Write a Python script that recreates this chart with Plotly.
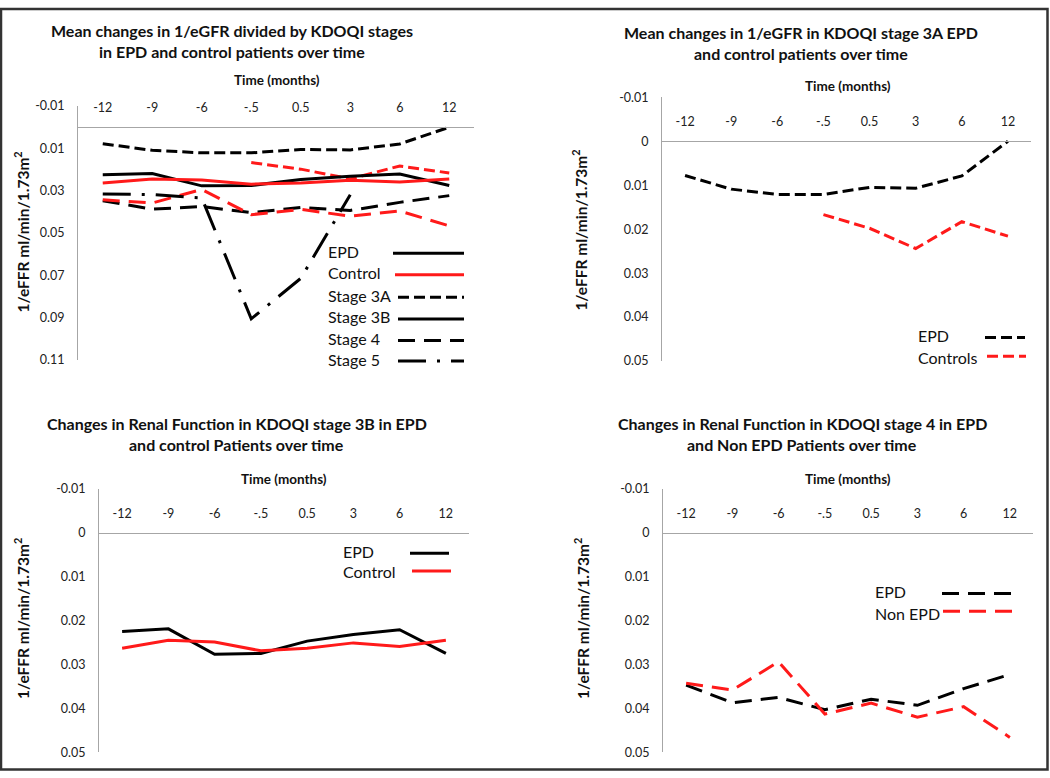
# -*- coding: utf-8 -*-
# four panels: 1/eGFR changes by KDOQI stage, EPD vs control

import plotly.graph_objects as go

W, H = 1050, 778

months = ["-12", "-9", "-6", "-.5", "0.5", "3", "6", "12"]

stage3a_epd = [0.0078, 0.0109, 0.0121, 0.0121, 0.0105, 0.0107, 0.0079, 0.0]
stage3a_ctrl = [None, None, None, 0.0167, 0.0198, 0.0244, 0.0183, 0.0216]
stage3b_epd = [0.0225, 0.0219, 0.0277, 0.0275, 0.0247, 0.0232, 0.0221, 0.0275]
stage3b_ctrl = [0.0263, 0.0245, 0.0249, 0.0269, 0.0263, 0.0251, 0.0259, 0.0245]
stage4_epd = [0.0347, 0.0387, 0.0375, 0.0403, 0.0379, 0.0393, 0.0355, 0.0323]
stage4_ctrl = [0.0343, 0.0358, 0.0294, 0.0413, 0.0388, 0.0420, 0.0396, 0.0466]
stage5_epd = [0.0315, 0.0318, 0.0334, 0.0905, 0.0714, 0.0319, None, None]

ticks_big = [-0.01, 0.01, 0.03, 0.05, 0.07, 0.09, 0.11]
ticks_small = [-0.01, 0, 0.01, 0.02, 0.03, 0.04, 0.05]

FONT = "Lato"
BLACK = "#000000"
RED = "#ff1a1a"
AXIS = "#a6a6a6"
SHORT = "11px,5px"
LONG = "17px,9px"
DASHDOT = "28px,11px,3px,11px"


def fx(p):
    return p / W


def fy(p):
    return 1 - p / H


def tick_text(v):
    if v == 0:
        return "0"
    return ("%.2f" % v)


# panels: pixel box of the plot area (left, right, top of -0.01, bottom)
panels = [
    dict(box=(78, 474, 100, 359), yr=(0.11, -0.01), ticks=ticks_big),
    dict(box=(662, 1031, 91, 360), yr=(0.05, -0.01), ticks=ticks_small),
    dict(box=(99, 469, 490, 759), yr=(0.05, -0.01), ticks=ticks_small),
    dict(box=(663, 1033, 490, 759), yr=(0.05, -0.01), ticks=ticks_small),
]

fig = go.Figure()


def add_line(i, y, color, dash):
    sfx = "" if i == 0 else str(i + 1)
    fig.add_trace(go.Scatter(x=months, y=y, mode="lines", xaxis="x" + sfx, yaxis="y" + sfx,
                             line=dict(color=color, width=3, dash=dash),
                             connectgaps=False, showlegend=False, hoverinfo="skip"))


# panel 1: all stages
add_line(0, stage3a_epd, BLACK, SHORT)
add_line(0, stage3a_ctrl, RED, SHORT)
add_line(0, stage3b_epd, BLACK, "solid")
add_line(0, stage3b_ctrl, RED, "solid")
add_line(0, stage4_epd, BLACK, LONG)
add_line(0, stage4_ctrl, RED, LONG)
add_line(0, stage5_epd, BLACK, DASHDOT)
# panel 2: stage 3A
add_line(1, stage3a_epd, BLACK, SHORT)
add_line(1, stage3a_ctrl, RED, SHORT)
# panel 3: stage 3B
add_line(2, stage3b_epd, BLACK, "solid")
add_line(2, stage3b_ctrl, RED, "solid")
# panel 4: stage 4
add_line(3, stage4_epd, BLACK, LONG)
add_line(3, stage4_ctrl, RED, LONG)

layout = dict(width=W, height=H, margin=dict(l=0, r=0, t=0, b=0),
              paper_bgcolor="white", plot_bgcolor="white", showlegend=False,
              font=dict(family=FONT, color="#222222"))

for i, p in enumerate(panels):
    sfx = "" if i == 0 else str(i + 1)
    l, r, t, b = p["box"]
    ydom = [fy(b), fy(t)]
    ybot, ytop = p["yr"]
    pos = ydom[0] + (ydom[1] - ydom[0]) * (ybot - 0) / (ybot - ytop)
    layout["xaxis" + sfx] = dict(domain=[fx(l), fx(r)], anchor="free", position=pos, side="top",
                                 type="category", range=[-0.5, 7.5], showline=True, linecolor=AXIS,
                                 linewidth=1, showgrid=False, zeroline=False, ticks="outside",
                                 ticklen=10, tickcolor="rgba(0,0,0,0)",
                                 tickfont=dict(size=12.5, color="#222222"), fixedrange=True)
    layout["yaxis" + sfx] = dict(domain=ydom, anchor="x" + sfx, range=[ybot, ytop],
                                 showline=True, linecolor=AXIS, linewidth=1, showgrid=False,
                                 zeroline=False, tickvals=p["ticks"],
                                 ticktext=[tick_text(v) for v in p["ticks"]],
                                 ticks="outside", ticklen=10, tickcolor="rgba(0,0,0,0)",
                                 tickfont=dict(size=12.5, color="#222222"), fixedrange=True)

fig.update_layout(**layout)

ann = []
shapes = []


def text(x, y, s, size=14, bold=False, angle=0, xanchor="center"):
    if bold:
        s = "<b>" + s + "</b>"
    ann.append(dict(x=fx(x), y=fy(y), xref="paper", yref="paper", text=s, showarrow=False,
                    xanchor=xanchor, yanchor="middle", textangle=angle,
                    font=dict(family=FONT, size=size, color="#111111")))


def sample(x0, x1, y, color, dash):
    shapes.append(dict(type="line", xref="paper", yref="paper", x0=fx(x0), x1=fx(x1),
                       y0=fy(y), y1=fy(y), line=dict(color=color, width=3, dash=dash)))


ytitle = "1/eFFR ml/min/1.73m<sup>2</sup>"
TS = 16

# panel 1
text(232, 23, "Mean changes in 1/eGFR divided by KDOQI stages", TS, True)
text(232, 44, "in EPD and control patients over time", TS, True)
text(277, 73, "Time (months)", 13.5, True)
text(22, 229, ytitle, 15.5, True, -90)
leg1 = [("EPD", 248, BLACK, "solid", 393), ("Control", 270, RED, "solid", 395),
        ("Stage 3A", 293, BLACK, SHORT, 398), ("Stage 3B", 315, BLACK, "solid", 398),
        ("Stage 4", 337, BLACK, LONG, 398), ("Stage 5", 358, BLACK, DASHDOT, 398)]
for name, yy, c, d, x0 in leg1:
    text(326, yy, name, 16, xanchor="left")
    sample(x0, 464, yy + 2, c, d)

# panel 2
text(801, 25, "Mean changes in 1/eGFR in KDOQI stage 3A EPD", TS, True)
text(801, 46, "and control patients over time", TS, True)
text(848, 80, "Time (months)", 13.5, True)
text(580, 227, ytitle, 15.5, True, -90)
text(916, 334, "EPD", 16, xanchor="left")
sample(985, 1025, 336, BLACK, SHORT)
text(916, 356, "Controls", 16, xanchor="left")
sample(987, 1026, 355, RED, SHORT)

# panel 3
text(237, 424, "Changes in Renal Function in KDOQI stage 3B in EPD", TS, True)
text(237, 445, "and control Patients over time", TS, True)
text(284, 480, "Time (months)", 13.5, True)
text(22, 623, ytitle, 15.5, True, -90)
text(341, 554, "EPD", 16, xanchor="left")
sample(410, 449, 556, BLACK, "solid")
text(341, 575, "Control", 16, xanchor="left")
sample(412, 451, 574, RED, "solid")

# panel 4
text(802, 424, "Changes in Renal Function in KDOQI stage 4 in EPD", TS, True)
text(802, 445, "and Non EPD Patients over time", TS, True)
text(848, 480, "Time (months)", 13.5, True)
text(582, 623, ytitle, 15.5, True, -90)
text(873, 595, "EPD", 16, xanchor="left")
sample(942, 1012, 597, BLACK, LONG)
text(873, 617, "Non EPD", 16, xanchor="left")
sample(943, 1012, 615, RED, LONG)

# outer frame
shapes.append(dict(type="rect", xref="paper", yref="paper", x0=fx(1), x1=fx(1047.5),
                   y0=fy(776.5), y1=fy(1), line=dict(color="#333333", width=2.5)))

fig.update_layout(annotations=ann, shapes=shapes)
# drop the default page margin so the figure sits at the page corner
fig.write_html("out.html", config={"displayModeBar": False},
               post_script="document.body.style.margin='0';")
